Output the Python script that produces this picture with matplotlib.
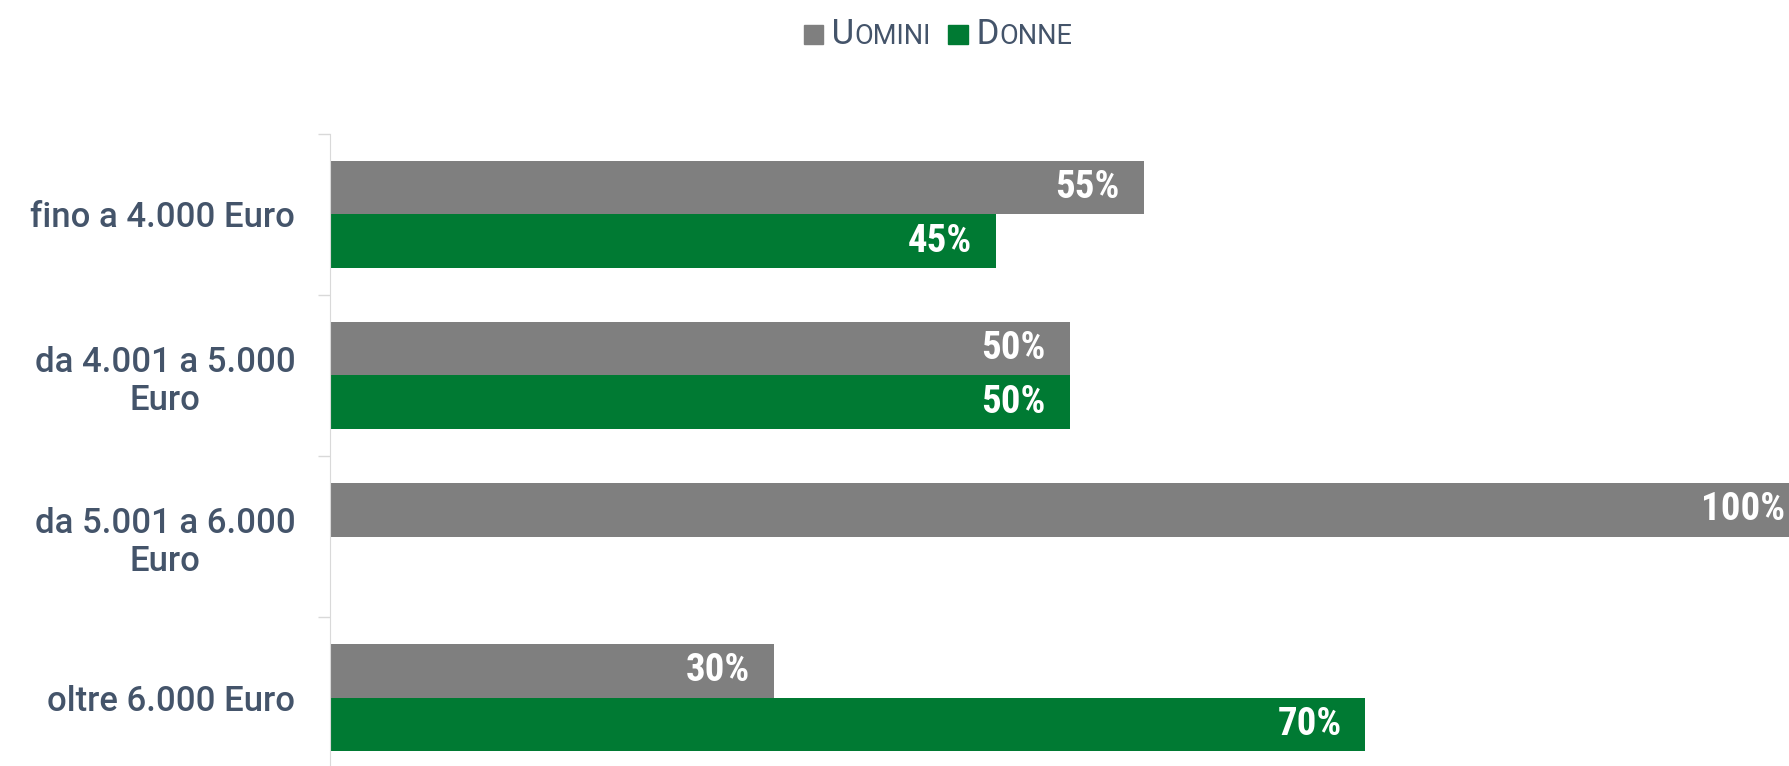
import matplotlib.pyplot as plt
import numpy as np
from matplotlib.offsetbox import AnchoredOffsetbox, DrawingArea, HPacker, TextArea
from matplotlib.patches import Rectangle

plt.rcParams['font.family'] = ['Roboto', 'DejaVu Sans']

categories = ["fino a 4.000 Euro", "da 4.001 a 5.000\nEuro", "da 5.001 a 6.000\nEuro", "oltre 6.000 Euro"]
uomini = [55, 50, 100, 30]
donne = [45, 50, 0, 70]

GRAY = "#7f7f7f"
GREEN = "#007a33"
TEXT = "#44546a"
LABEL_FONT = ['Roboto Condensed', 'Roboto', 'DejaVu Sans']

fig = plt.figure(figsize=(17.9, 7.66), dpi=100)
ax = fig.add_axes([0.1844, -0.0157, 0.8263, 0.8408])

y = np.arange(len(categories))
h = 0.33
bars_u = ax.barh(y - h / 2, uomini, height=h, color=GRAY)
bars_d = ax.barh(y + h / 2, donne, height=h, color=GREEN)

for bars, vals in ((bars_u, uomini), (bars_d, donne)):
    for bar, v in zip(bars, vals):
        if v == 0:
            continue
        ax.text(bar.get_width() - 1.6, bar.get_y() + bar.get_height() / 2, f"{v}%",
                ha="right", va="center", color="white", fontsize=28, fontweight="bold",
                family=LABEL_FONT)

ax.set_xlim(0, 100)
ax.set_ylim(3.5, -0.5)
ax.set_yticks(y)
ax.set_yticklabels(categories, fontsize=25, color=TEXT, fontweight="medium")
for lbl in ax.get_yticklabels():
    lbl.set_multialignment("center")
ax.set_yticks(np.arange(-0.5, 4, 1), minor=True)
ax.tick_params(axis="y", which="major", length=0, pad=25)
ax.tick_params(axis="y", which="minor", length=9, color="#d9d9d9", width=1)
ax.set_xticks([])
for side in ("top", "right", "bottom"):
    ax.spines[side].set_visible(False)
ax.spines["left"].set_color("#d9d9d9")

# legend with small-caps labels
def legend_item(color, first, rest):
    box = DrawingArea(14, 14)
    box.add_artist(Rectangle((0, 0), 14, 14, color=color))
    return [box,
            TextArea(" " + first, textprops=dict(fontsize=25, color=TEXT)),
            TextArea(rest, textprops=dict(fontsize=19.5, color=TEXT))]

items = legend_item(GRAY, "U", "OMINI") + [TextArea("  ", textprops=dict(fontsize=25))] + legend_item(GREEN, "D", "ONNE")
pack = HPacker(children=items, align="baseline", pad=0, sep=0)
anchored = AnchoredOffsetbox(loc="center", child=pack, frameon=False,
                             bbox_to_anchor=(0.524, 0.955), bbox_transform=fig.transFigure)
fig.add_artist(anchored)

fig.savefig("out.png", dpi=100, facecolor="white")
